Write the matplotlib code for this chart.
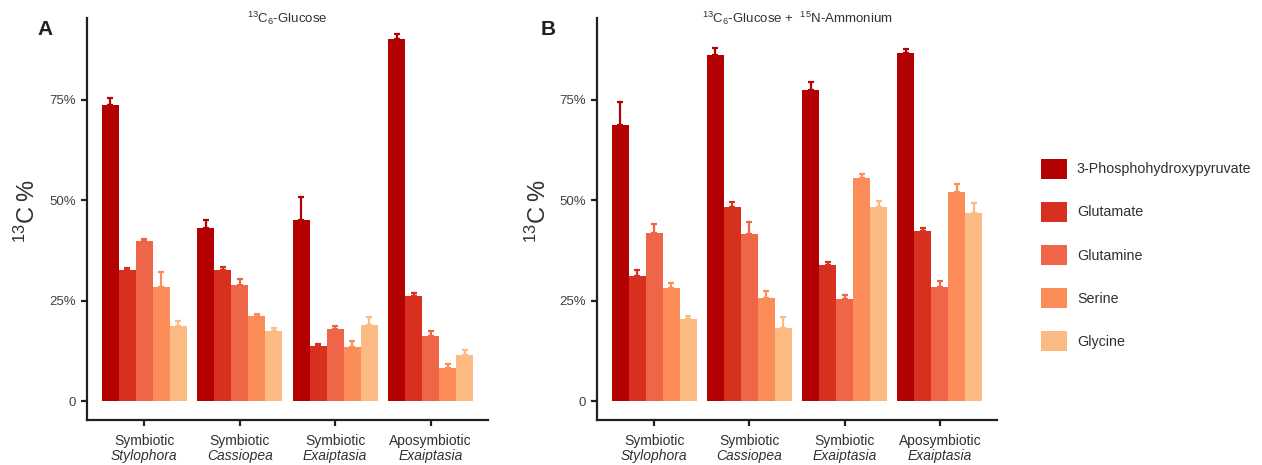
import numpy as np
import matplotlib
matplotlib.use('Agg')
import matplotlib.pyplot as plt
from matplotlib.patches import Patch
from matplotlib.transforms import blended_transform_factory

plt.rcParams['font.family'] = ['Liberation Sans', 'DejaVu Sans']
plt.rcParams['mathtext.fontset'] = 'custom'
plt.rcParams['mathtext.rm'] = 'Liberation Sans'
plt.rcParams['mathtext.it'] = 'Liberation Sans:italic'

groups_top = ['Symbiotic', 'Symbiotic', 'Symbiotic', 'Aposymbiotic']
groups_species = ['Stylophora', 'Cassiopea', 'Exaiptasia', 'Exaiptasia']
metabolites = ['3-Phosphohydroxypyruvate', 'Glutamate', 'Glutamine', 'Serine', 'Glycine']
colors = ['#b30000', '#d7301f', '#ef6548', '#fc8d59', '#fdbb84']

# panel A: 13C6-glucose, values per metabolite across the 4 groups
glc_mean = [
    [73.6, 43.0, 45.0, 90.0],
    [32.5, 32.6, 13.7, 26.1],
    [39.8, 28.9, 17.9, 16.2],
    [28.4, 21.2, 13.4, 8.3],
    [18.7, 17.5, 18.9, 11.4],
]
glc_err = [
    [1.9, 2.0, 5.7, 1.3],
    [0.6, 0.7, 0.5, 0.8],
    [0.5, 1.5, 0.8, 1.2],
    [3.6, 0.4, 1.6, 0.9],
    [1.3, 0.7, 2.0, 1.3],
]
# panel B: 13C6-glucose + 15N-ammonium
amm_mean = [
    [68.8, 86.1, 77.5, 86.6],
    [31.1, 48.4, 33.9, 42.4],
    [41.8, 41.5, 25.3, 28.5],
    [28.2, 25.7, 55.5, 51.9],
    [20.4, 18.3, 48.3, 46.9],
]
amm_err = [
    [5.5, 1.8, 1.8, 0.9],
    [1.5, 1.1, 0.7, 0.6],
    [2.3, 3.0, 1.0, 1.3],
    [1.2, 1.7, 0.9, 2.1],
    [0.7, 2.5, 1.4, 2.5],
]
yticks = [0, 25, 50, 75]
ytick_labels = ['0', '25%', '50%', '75%']

W, H = 1262, 465
fig = plt.figure(figsize=(W / 100, H / 100), dpi=100)

def px_axes(x0, y0, x1, y1):
    return fig.add_axes([x0 / W, 1 - y1 / H, (x1 - x0) / W, (y1 - y0) / H])

def draw_panel(ax, mean, err, title, letter, letter_x):
    x = np.arange(len(groups_top))
    bw = 0.178
    for i, m in enumerate(metabolites):
        xs = x + (i - 2) * bw
        ax.bar(xs, mean[i], width=bw, color=colors[i], linewidth=0)
        ax.errorbar(xs, mean[i], yerr=[np.zeros(4), err[i]], fmt='none',
                    ecolor=colors[i], elinewidth=1.6, capsize=2, capthick=1.6)
    ax.set_xlim(-0.6, 3.6)
    ax.set_ylim(-4.7, 95.3)
    ax.set_yticks(yticks)
    ax.set_yticklabels(ytick_labels)
    ax.set_xticks(x)
    ax.set_xticklabels([])
    for s in ['top', 'right']:
        ax.spines[s].set_visible(False)
    for s in ['left', 'bottom']:
        ax.spines[s].set_linewidth(1.6)
        ax.spines[s].set_color('#231f20')
    ax.tick_params(axis='both', direction='out', length=4, width=1.6,
                   color='#231f20', labelsize=9.5, labelcolor='#404040', pad=4)
    tr = blended_transform_factory(ax.transData, ax.transAxes)
    for xi, t1, t2 in zip(x, groups_top, groups_species):
        ax.text(xi, -0.035, t1, transform=tr, ha='center', va='top',
                fontsize=10, color='#303030')
        ax.text(xi, -0.073, t2, transform=tr, ha='center', va='top',
                fontsize=10, color='#303030', style='italic')
    ax.text(-0.148, 0.52, '$^{13}$C\u2009%', transform=ax.transAxes,
            rotation=90, ha='center', va='center', fontsize=17, color='#303030')
    ax.text(0.5, 1.0, title, transform=ax.transAxes, ha='center',
            va='center', fontsize=9.5, color='#303030')
    ax.text(letter_x, 0.995, letter, transform=ax.transAxes, fontsize=15,
            fontweight='bold', color='#231f20', ha='center', va='top')

axA = px_axes(87, 18, 488, 420)
axB = px_axes(597, 18, 997, 420)
draw_panel(axA, glc_mean, glc_err, r'$^{13}$C$_6$-Glucose', 'A', -0.105)
draw_panel(axB, amm_mean, amm_err,
           r'$^{13}$C$_6$-Glucose +  $^{15}$N-Ammonium', 'B', -0.122)

handles = [Patch(facecolor=c, edgecolor='none') for c in colors]
fig.legend(handles, metabolites, loc='center left',
           bbox_to_anchor=(1034 / W, 1 - 255 / H), frameon=False,
           fontsize=10.3, handlelength=1.8, handleheight=1.8,
           labelspacing=1.6, handletextpad=0.7, borderpad=0,
           labelcolor='#303030')

fig.savefig('out.png', dpi=100)
